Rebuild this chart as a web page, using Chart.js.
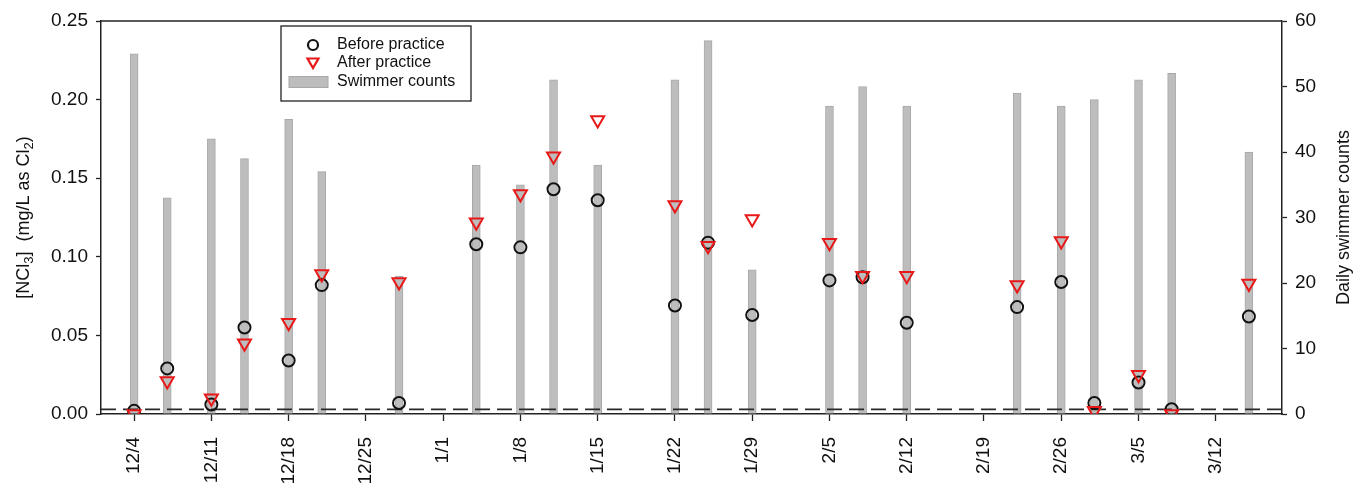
<!DOCTYPE html>
<html>
<head>
<meta charset="utf-8">
<script src="https://cdn.jsdelivr.net/npm/chart.js@4.4.1/dist/chart.umd.min.js"></script>
<style>
  body { margin: 0; background: #fff; }
  #wrap { width: 1368px; height: 488px; }
</style>
</head>
<body>
<div id="wrap"><canvas id="chart"></canvas></div>
<script>
// sampling days (M/D), season Dec -> Mar
const sampleDates = ['12/4', '12/7', '12/11', '12/14', '12/18', '12/21', '12/28',
  '1/4', '1/8', '1/11', '1/15', '1/22', '1/25', '1/29',
  '2/5', '2/8', '2/12', '2/22', '2/26', '3/1', '3/5', '3/8', '3/15'];

// [NCl3] mg/L as Cl2
const beforePractice = [0.002, 0.029, 0.006, 0.055, 0.034, 0.082, 0.007,
  0.108, 0.106, 0.143, 0.136, 0.069, 0.109, 0.063,
  0.085, 0.087, 0.058, 0.068, 0.084, 0.007, 0.020, 0.003, 0.062];
const afterPractice = [0.000, 0.021, 0.010, 0.045, 0.058, 0.089, 0.084,
  0.122, 0.140, 0.164, 0.187, 0.133, 0.107, 0.124,
  0.109, 0.088, 0.088, 0.082, 0.110, 0.002, 0.025, 0.000, 0.083];

// daily swimmer counts (right axis)
const swimmerCounts = [55, 33, 42, 39, 45, 37, 21,
  38, 35, 51, 38, 51, 57, 22,
  47, 50, 47, 49, 47, 48, 51, 52, 40];

const tickLabels = ['12/4', '12/11', '12/18', '12/25', '1/1', '1/8', '1/15', '1/22',
  '1/29', '2/5', '2/12', '2/19', '2/26', '3/5', '3/12'];
const axisStart = '12/1';
const axisEnd = '3/18';
const detectionLimit = 0.003;

const FONT = "'Liberation Sans', Arial, Helvetica, sans-serif";
Chart.defaults.font.family = FONT;
Chart.defaults.color = '#111';

// days since 12/4 (Dec belongs to the first year, Jan-Mar to the next)
function dayOffset(md) {
  const [m, d] = md.split('/').map(Number);
  const year = m >= 9 ? 2016 : 2017;
  return (Date.UTC(year, m - 1, d) - Date.UTC(2016, 11, 4)) / 86400000;
}

const xs = sampleDates.map(dayOffset);
const tickDays = tickLabels.map(dayOffset);
const pts = (vals) => vals.map((v, i) => ({ x: xs[i], y: v }));
const CLEAR = 'rgba(0,0,0,0)';

const frameAndLabels = {
  id: 'frameAndLabels',
  afterDraw(chart) {
    const { ctx, chartArea: a } = chart;
    ctx.save();
    // top frame line
    ctx.strokeStyle = '#222';
    ctx.lineWidth = 1.5;
    ctx.beginPath();
    ctx.moveTo(a.left, a.top);
    ctx.lineTo(a.right, a.top);
    ctx.stroke();

    // left axis title with subscripts
    const parts = [
      { t: '[NCl', sub: false }, { t: '3', sub: true }, { t: ']  (mg/L as Cl', sub: false },
      { t: '2', sub: true }, { t: ')', sub: false }
    ];
    const big = '18px ' + FONT, small = '13px ' + FONT;
    ctx.translate(24, (a.top + a.bottom) / 2);
    ctx.rotate(-Math.PI / 2);
    let total = 0;
    parts.forEach(p => { ctx.font = p.sub ? small : big; total += ctx.measureText(p.t).width; });
    let cx = -total / 2;
    ctx.fillStyle = '#111';
    ctx.textBaseline = 'middle';
    ctx.textAlign = 'left';
    parts.forEach(p => {
      ctx.font = p.sub ? small : big;
      ctx.fillText(p.t, cx, p.sub ? 5 : 0);
      cx += ctx.measureText(p.t).width;
    });
    ctx.restore();

    // right axis title
    ctx.save();
    ctx.translate(1344, (a.top + a.bottom) / 2);
    ctx.rotate(-Math.PI / 2);
    ctx.font = '18px ' + FONT;
    ctx.fillStyle = '#111';
    ctx.textAlign = 'center';
    ctx.textBaseline = 'middle';
    ctx.fillText('Daily swimmer counts', 0, 0);
    ctx.restore();

    // legend box
    const lx = a.left + 180, ly = a.top + 5, lw = 190, lh = 75;
    ctx.save();
    ctx.fillStyle = '#fff';
    ctx.fillRect(lx, ly, lw, lh);
    ctx.strokeStyle = '#222';
    ctx.lineWidth = 1.3;
    ctx.strokeRect(lx, ly, lw, lh);
    const sx = lx + 32, tx = lx + 56;
    const rows = [ly + 19, ly + 37, ly + 56];
    ctx.lineWidth = 2.2;
    ctx.strokeStyle = '#111';
    ctx.beginPath();
    ctx.arc(sx, rows[0], 5, 0, Math.PI * 2);
    ctx.stroke();
    ctx.strokeStyle = '#e81818';
    ctx.beginPath();
    ctx.moveTo(sx - 5.5, rows[1] - 4.5);
    ctx.lineTo(sx + 5.5, rows[1] - 4.5);
    ctx.lineTo(sx, rows[1] + 5);
    ctx.closePath();
    ctx.stroke();
    ctx.fillStyle = '#bdbdbd';
    ctx.strokeStyle = '#a8a8a8';
    ctx.lineWidth = 1;
    ctx.fillRect(lx + 8, rows[2] - 5.5, 39, 11);
    ctx.strokeRect(lx + 8, rows[2] - 5.5, 39, 11);
    ctx.fillStyle = '#111';
    ctx.font = '16px ' + FONT;
    ctx.textBaseline = 'middle';
    ctx.fillText('Before practice', tx, rows[0]);
    ctx.fillText('After practice', tx, rows[1]);
    ctx.fillText('Swimmer counts', tx, rows[2]);
    ctx.restore();
  }
};

new Chart(document.getElementById('chart'), {
  type: 'bar',
  data: {
    datasets: [
      {
        type: 'scatter',
        label: 'After practice',
        data: pts(afterPractice),
        yAxisID: 'y',
        pointStyle: 'triangle',
        rotation: 180,
        pointRadius: 7.5,
        borderWidth: 2,
        pointBorderWidth: 2,
        borderColor: '#e81818',
        pointBorderColor: '#e81818',
        backgroundColor: CLEAR,
        pointBackgroundColor: CLEAR,
        order: 1
      },
      {
        type: 'scatter',
        label: 'Before practice',
        data: pts(beforePractice),
        yAxisID: 'y',
        pointStyle: 'circle',
        pointRadius: 6,
        borderWidth: 2,
        pointBorderWidth: 2,
        borderColor: '#111',
        pointBorderColor: '#111',
        backgroundColor: CLEAR,
        pointBackgroundColor: CLEAR,
        order: 2
      },
      {
        type: 'line',
        label: 'Detection limit',
        data: [{ x: dayOffset(axisStart), y: detectionLimit }, { x: dayOffset(axisEnd), y: detectionLimit }],
        yAxisID: 'y',
        borderColor: '#2a2a2a',
        borderWidth: 1.8,
        borderDash: [15, 7],
        pointRadius: 0,
        order: 3
      },
      {
        type: 'bar',
        label: 'Swimmer counts',
        data: pts(swimmerCounts),
        yAxisID: 'y2',
        backgroundColor: '#bdbdbd',
        borderColor: '#a8a8a8',
        borderWidth: 1,
        barThickness: 8,
        order: 4
      }
    ]
  },
  options: {
    responsive: true,
    maintainAspectRatio: false,
    animation: false,
    layout: { padding: { top: 21, left: 0, right: 0, bottom: 0 } },
    plugins: { legend: { display: false }, tooltip: { enabled: false } },
    scales: {
      x: {
        type: 'linear',
        min: dayOffset(axisStart),
        max: dayOffset(axisEnd),
        offset: false,
        afterBuildTicks: (scale) => { scale.ticks = tickDays.map(v => ({ value: v })); },
        afterFit: (scale) => { scale.height = 74; },
        ticks: {
          autoSkip: false,
          minRotation: 90,
          maxRotation: 90,
          padding: 16,
          font: { size: 19 },
          color: '#111',
          callback: (v, i) => tickLabels[i]
        },
        grid: { drawOnChartArea: false, offset: false, tickLength: 7, tickColor: '#222', tickWidth: 1.3 },
        border: { color: '#222', width: 1.5 }
      },
      y: {
        position: 'left',
        min: 0,
        max: 0.25,
        afterFit: (scale) => { scale.width = 101; },
        ticks: { stepSize: 0.05, padding: 8, font: { size: 19 }, color: '#111', callback: v => v.toFixed(2) },
        grid: { drawOnChartArea: false, tickLength: 5, tickColor: '#222', tickWidth: 1.3 },
        border: { color: '#222', width: 1.5 }
      },
      y2: {
        position: 'right',
        min: 0,
        max: 60,
        afterFit: (scale) => { scale.width = 86; },
        ticks: { stepSize: 10, padding: 8, font: { size: 19 }, color: '#111' },
        grid: { drawOnChartArea: false, tickLength: 5, tickColor: '#222', tickWidth: 1.3 },
        border: { color: '#222', width: 1.5 }
      }
    }
  },
  plugins: [frameAndLabels]
});
</script>
</body>
</html>
